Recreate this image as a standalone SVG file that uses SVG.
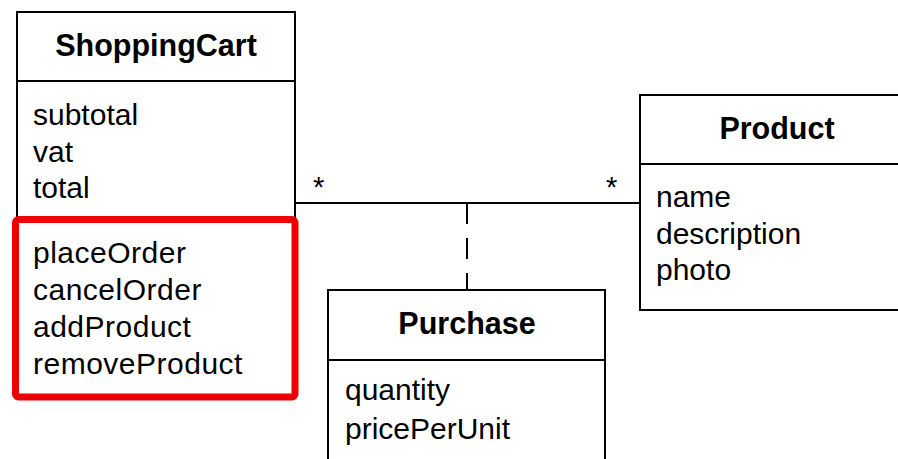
<svg xmlns="http://www.w3.org/2000/svg" width="898" height="459" viewBox="0 0 898 459">
  <style>
    .box { fill: #ffffff; stroke: #000000; stroke-width: 2; }
    .sep { stroke: #000000; stroke-width: 2; }
    .title { font-family: "Liberation Sans", Arial, sans-serif; font-weight: bold; font-size: 30.5px; fill: #000000; text-anchor: middle; }
    .item { font-family: "Liberation Sans", Arial, sans-serif; font-size: 30px; fill: #000000; }
    .op { letter-spacing: 0.5px; }
    .conn { stroke: #000000; stroke-width: 2; fill: none; }
    .dash { stroke-dasharray: 21 14; }
    .mult { font-family: "Liberation Sans", Arial, sans-serif; font-size: 29px; fill: #000000; }
    .highlight { fill: none; stroke: #ee0000; stroke-width: 7; }
  </style>

  <!-- association and association-class link -->
  <g id="connectors">
    <line class="conn" x1="295" y1="203" x2="640" y2="203"/>
    <line class="conn dash" x1="467" y1="203" x2="467" y2="290"/>
    <text class="mult" x="313" y="197">*</text>
    <text class="mult" x="606" y="197">*</text>
  </g>

  <g id="ShoppingCart">
    <rect class="box" x="17" y="12" width="278" height="385"/>
    <line class="sep" x1="17" y1="81" x2="295" y2="81"/>
    <text class="title" x="156" y="56">ShoppingCart</text>
    <text class="item" x="33" y="125">subtotal</text>
    <text class="item" x="33" y="162">vat</text>
    <text class="item" x="33" y="198">total</text>
    <text class="item op" x="33" y="263">placeOrder</text>
    <text class="item op" x="33" y="300">cancelOrder</text>
    <text class="item op" x="33" y="337">addProduct</text>
    <text class="item op" x="33" y="374">removeProduct</text>
    <!-- operations compartment emphasis -->
    <rect class="highlight" x="15.5" y="219.5" width="279.5" height="177.5" rx="3"/>
  </g>

  <g id="Product">
    <rect class="box" x="640" y="95" width="270" height="215"/>
    <line class="sep" x1="640" y1="164" x2="910" y2="164"/>
    <text class="title" x="777" y="139">Product</text>
    <text class="item" x="656" y="207">name</text>
    <text class="item" x="656" y="244">description</text>
    <text class="item" x="656" y="280">photo</text>
  </g>

  <g id="Purchase">
    <rect class="box" x="328" y="290" width="277" height="190"/>
    <line class="sep" x1="328" y1="360" x2="605" y2="360"/>
    <text class="title" x="467" y="334">Purchase</text>
    <text class="item" x="345" y="400">quantity</text>
    <text class="item" x="345" y="439">pricePerUnit</text>
  </g>
</svg>
